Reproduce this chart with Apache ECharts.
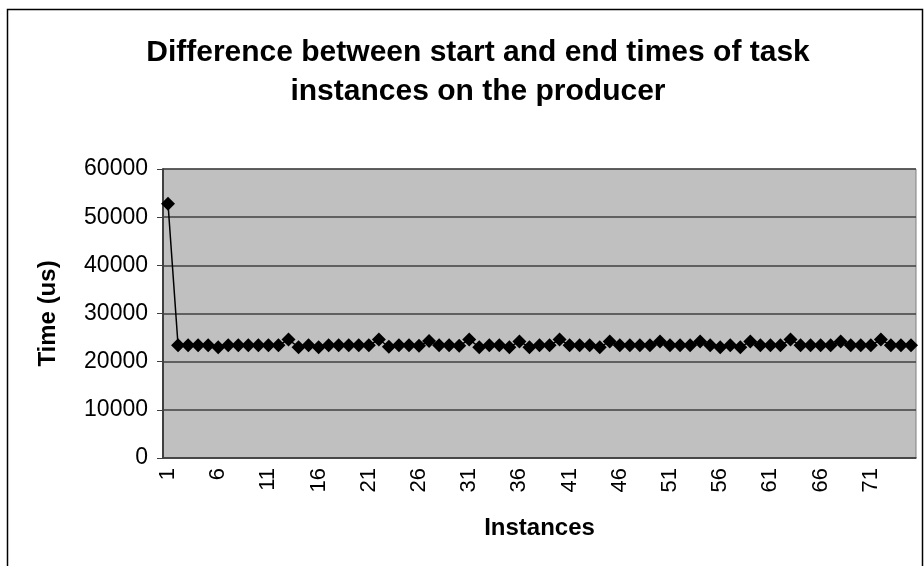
<!DOCTYPE html>
<html>
<head>
<meta charset="utf-8">
<script src="https://cdn.jsdelivr.net/npm/echarts@6/dist/echarts.min.js"></script>
<style>
html,body{margin:0;padding:0;background:#fff;}
#chart{width:924px;height:566px;}
</style>
</head>
<body>
<div id="chart"></div>
<script>
const titleLines = ["Difference between start and end times of task", "instances on the producer"];
const xAxisName = "Instances";
const yAxisName = "Time (us)";
const yTicks = [0, 10000, 20000, 30000, 40000, 50000, 60000];
const instances = [];
for (let i = 1; i <= 75; i++) instances.push(String(i));
const timesUs = [
  52800, 23400, 23400, 23400, 23400, 23000, 23400, 23400, 23400, 23400,
  23400, 23400, 24600, 23000, 23400, 23000, 23400, 23400, 23400, 23400,
  23400, 24600, 23100, 23400, 23400, 23300, 24300, 23400, 23400, 23300,
  24600, 23000, 23400, 23400, 23000, 24200, 23000, 23400, 23400, 24600,
  23400, 23400, 23400, 23000, 24200, 23400, 23400, 23400, 23400, 24200,
  23400, 23400, 23400, 24200, 23400, 23000, 23400, 23000, 24200, 23400,
  23400, 23400, 24600, 23400, 23400, 23400, 23400, 24200, 23400, 23400,
  23400, 24600, 23400, 23400, 23400
];

const chart = echarts.init(document.getElementById('chart'));
chart.setOption({
  backgroundColor: '#fff',
  animation: false,
  title: {
    text: titleLines.join('\n'),
    left: 473, top: 28, textAlign: 'center',
    textStyle: { fontFamily: 'Liberation Sans', fontWeight: 'bold', fontSize: 30, lineHeight: 39, color: '#000' }
  },
  graphic: [{
    type: 'rect', shape: { x: 7.5, y: 9.5, width: 915, height: 600 },
    style: { fill: 'none', stroke: '#000', lineWidth: 1.5 }, silent: true
  }],
  grid: { left: 163, right: 8, top: 169, bottom: 108, show: true, backgroundColor: '#C0C0C0', borderColor: '#808080', borderWidth: 1 },
  xAxis: {
    type: 'category', data: instances, boundaryGap: true,
    name: xAxisName, nameLocation: 'middle', nameGap: 58,
    nameTextStyle: { fontFamily: 'Liberation Sans', fontWeight: 'bold', fontSize: 24, color: '#000' },
    axisLine: { lineStyle: { color: '#404040', width: 1.5 } },
    axisTick: { interval: 0, length: 6, lineStyle: { color: '#404040' } },
    axisLabel: { interval: 4, rotate: 90, fontFamily: 'Liberation Sans', fontSize: 22, color: '#000', margin: 10 },
    splitLine: { show: false }
  },
  yAxis: {
    type: 'value', min: yTicks[0], max: yTicks[yTicks.length - 1], interval: yTicks[1] - yTicks[0],
    name: yAxisName, nameLocation: 'middle', nameGap: 103, nameRotate: 90,
    nameTextStyle: { fontFamily: 'Liberation Sans', fontWeight: 'bold', fontSize: 24, color: '#000' },
    axisLine: { show: true, lineStyle: { color: '#404040', width: 2 } },
    axisTick: { show: true, length: 6, lineStyle: { color: '#404040' } },
    axisLabel: { fontFamily: 'Liberation Sans', fontSize: 23, color: '#000', margin: 15, formatter: v => String(v) },
    splitLine: { lineStyle: { color: '#404040', width: 1.5 } }
  },
  series: [{
    type: 'line', data: timesUs,
    symbol: 'diamond', symbolSize: 14, showAllSymbol: true,
    itemStyle: { color: '#000' },
    lineStyle: { color: '#000', width: 1.5 }
  }]
});
</script>
</body>
</html>
